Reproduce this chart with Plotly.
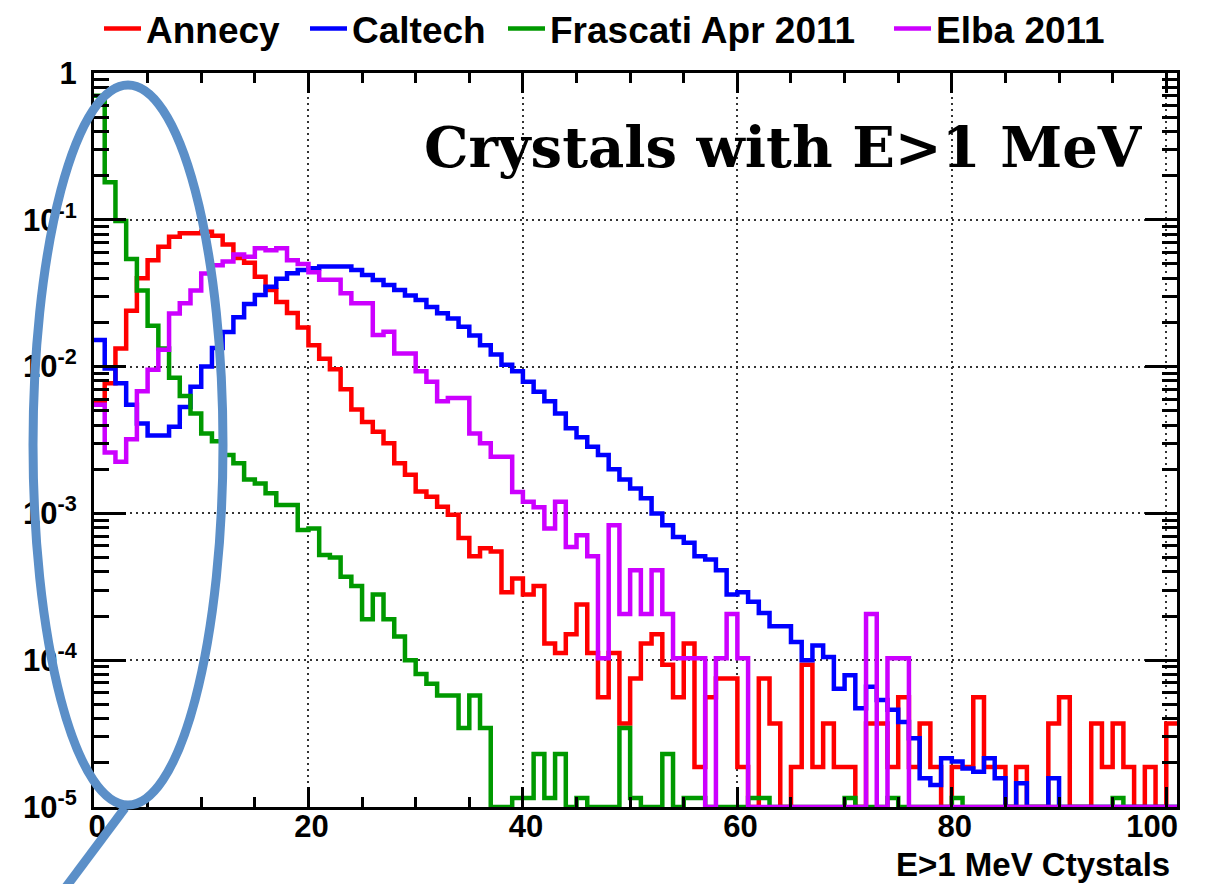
import plotly.graph_objects as go

# ---------------- data (bin contents, bins of width 1 starting at 0) ----------------
annecy = [0.0058, 0.0077, 0.0133, 0.024, 0.040, 0.053, 0.0656, 0.0767, 0.081, 0.081,
          0.083, 0.078, 0.068, 0.055, 0.051, 0.041, 0.0333, 0.0275, 0.0232, 0.0185,
          0.014, 0.0113, 0.0096, 0.0070, 0.0051, 0.0042, 0.0036, 0.0030, 0.0022, 0.00183,
          0.00141, 0.0013, 0.00111, 0.00098, 0.00068, 0.00051, 0.00058, 0.00055, 0.00029, 0.00036,
          0.00028, 0.00032, 0.00013, 0.000112, 0.00015, 0.00024, 0.000112, 5.6e-5, 0.000112, 3.7e-5,
          7.5e-5, 0.00013, 0.00015, 9.3e-5, 5.6e-5, 0.00013, 1.87e-5, 5.6e-5, 7.5e-5, 7.5e-5,
          1.87e-5, 0, 7.5e-5, 3.7e-5, 0, 1.87e-5, 9.3e-5, 1.87e-5, 3.7e-5, 1.87e-5,
          1.87e-5, 0, 3.7e-5, 3.7e-5, 1.87e-5, 5.6e-5, 1.87e-5, 3.7e-5, 1.87e-5, 0,
          1.87e-5, 1.87e-5, 5.6e-5, 1.87e-5, 1.87e-5, 0, 1.87e-5, 0, 0, 3.7e-5,
          5.6e-5, 0, 0, 3.7e-5, 1.87e-5, 3.7e-5, 1.87e-5, 0, 1.87e-5, 0,
          3.7e-5]

caltech = [0.0152, 0.0097, 0.0077, 0.0055, 0.0041, 0.0034, 0.0034, 0.0039, 0.0053, 0.0073,
           0.0100, 0.0134, 0.0172, 0.0217, 0.0267, 0.0307, 0.035, 0.0396, 0.0432, 0.0455,
           0.0467, 0.048, 0.048, 0.048, 0.0455, 0.0421, 0.0389, 0.0359, 0.0333, 0.0305,
           0.0284, 0.0255, 0.0231, 0.0213, 0.0187, 0.0163, 0.014, 0.0121, 0.0103, 0.0093,
           0.0079, 0.00675, 0.0058, 0.0048, 0.0038, 0.0033, 0.00285, 0.0025, 0.002, 0.0017,
           0.00148, 0.00127, 0.001, 0.00083, 0.00069, 0.00063, 0.00051, 0.000485, 0.00041, 0.00028,
           0.00029, 0.00025, 0.00021, 0.00017, 0.00017, 0.000133, 0.0001, 0.000126, 0.000105, 6.4e-5,
           7.9e-5, 4.7e-5, 6.6e-5, 5.35e-5, 4.6e-5, 3.8e-5, 2.94e-5, 1.57e-5, 1.41e-5, 2.15e-5,
           2.04e-5, 1.83e-5, 1.74e-5, 2.15e-5, 1.57e-5, 0, 1.45e-5, 0, 0, 1.57e-5,
           0, 0, 0, 0, 0, 0, 0, 0, 0, 0,
           0]

frascati = [0.7, 0.18, 0.098, 0.054, 0.033, 0.019, 0.0133, 0.0084, 0.0063, 0.0048,
            0.0035, 0.0031, 0.0025, 0.0022, 0.0017, 0.0016, 0.00137, 0.00114, 0.00114, 0.00077,
            0.00079, 0.00052, 0.0005, 0.00037, 0.00032, 0.00019, 0.00028, 0.00019, 0.000145, 0.0001,
            8.05e-5, 6.9e-5, 5.75e-5, 5.75e-5, 3.45e-5, 5.75e-5, 3.45e-5, 0, 0, 1.15e-5,
            1.15e-5, 2.3e-5, 1.15e-5, 2.3e-5, 0, 1.15e-5, 0, 0, 0, 3.45e-5,
            1.15e-5, 0, 0, 2.3e-5, 0, 1.15e-5, 1.15e-5, 0, 0, 0,
            0, 1.15e-5, 1.15e-5, 0, 0, 0, 0, 0, 0, 0,
            1.15e-5, 0, 0, 0, 1.15e-5, 0, 0, 0, 0, 0,
            1.15e-5, 0, 0, 0, 0, 0, 0, 0, 0, 0,
            0, 0, 0, 0, 0, 1.15e-5, 0, 0, 0, 0,
            0]

elba = [0.0055, 0.0026, 0.00225, 0.0032, 0.0068, 0.0095, 0.013, 0.023, 0.027, 0.033,
        0.043, 0.049, 0.052, 0.058, 0.056, 0.064, 0.062, 0.064, 0.053, 0.050,
        0.044, 0.039, 0.039, 0.0316, 0.027, 0.027, 0.0164, 0.0173, 0.0123, 0.0123,
        0.0093, 0.0079, 0.0058, 0.0061, 0.0061, 0.0035, 0.0030, 0.00243, 0.00243, 0.0014,
        0.0012, 0.0011, 0.00079, 0.0012, 0.00059, 0.00071, 0.00051, 0.000103, 0.00083, 0.000206,
        0.00041, 0.000206, 0.00041, 0.000206, 0.000103, 0.000103, 0.000103, 0, 0.000103, 0.000206,
        0.000103, 0, 0, 0, 0, 0, 0, 0, 0, 0,
        0, 0, 0.000206, 0, 0.000103, 0.000103, 0, 0, 0, 0,
        0, 0, 0, 0, 0, 0, 0, 0, 0, 0,
        0, 0, 0, 0, 0, 0, 0, 0, 0, 0,
        0]

series_names = ["Annecy", "Caltech", "Frascati Apr 2011", "Elba 2011"]
series_values = [annecy, caltech, frascati, elba]
series_colors = ["#FF0000", "#0000FF", "#009900", "#CC00FF"]
legend_ids = ["legend", "legend2", "legend3", "legend4"]
legend_x_px = [99, 305, 503, 889]   # left edge of each legend entry

x_tick_vals = [0, 20, 40, 60, 80, 100]
x_tick_text = ["0", "20", "40", "60", "80", "100\u00a0\u00a0\u00a0\u00a0"]
y_tick_vals = [1e-5, 1e-4, 1e-3, 1e-2, 1e-1, 1]
y_tick_text = ["10<sup>-5</sup>", "10<sup>-4</sup>", "10<sup>-3</sup>",
               "10<sup>-2</sup>", "10<sup>-1</sup>", "1"]

X_MAX = 101
Y_FLOOR = 1e-5
W, H = 1220, 884

fig = go.Figure()
for name, vals, col, lid in zip(series_names, series_values, series_colors, legend_ids):
    xs = list(range(len(vals) + 1))
    ys = [max(v, Y_FLOOR) for v in vals] + [max(vals[-1], Y_FLOOR)]
    fig.add_trace(go.Scatter(x=xs, y=ys, mode="lines", name=name, legend=lid,
                             line=dict(color=col, width=4.5, shape="hv")))

tick_font = dict(family="Liberation Sans, Arial, sans-serif", size=31, color="black", weight="bold")
legend_font = dict(family="Liberation Sans, Arial, sans-serif", size=37, color="black", weight="bold")
grid_kw = dict(showgrid=True, gridcolor="#333333", gridwidth=1.6, griddash="2px,4px")

minor_x = [v for v in range(5, 101, 5) if v % 20 != 0]
minor_y = [k * 10.0 ** e for e in range(-5, 0) for k in range(2, 10)]

layout_legends = {}
for lid, lx in zip(legend_ids, legend_x_px):
    layout_legends[lid] = dict(orientation="h", xref="container", yref="container",
                               x=lx / W, y=1 - 29 / H, xanchor="left", yanchor="middle",
                               font=legend_font, bgcolor="rgba(0,0,0,0)", itemwidth=37)

fig.update_layout(
    width=W, height=H,
    margin=dict(l=94, r=43, t=73, b=77, autoexpand=False),
    paper_bgcolor="white", plot_bgcolor="white",
    showlegend=True,
    xaxis=dict(range=[0, X_MAX], showline=True, linewidth=3, linecolor="black",
               mirror="allticks", ticks="inside", ticklen=20, tickwidth=2.5, tickcolor="black",
               tickvals=x_tick_vals, ticktext=x_tick_text, tickfont=tick_font,
               ticklabelstandoff=-10, ticklabelshift=3, zeroline=False,
               minor=dict(tickvals=minor_x, ticks="inside", ticklen=10, tickwidth=2.5,
                          tickcolor="black", showgrid=False),
               **grid_kw),
    yaxis=dict(type="log", range=[-5, 0], showline=True, linewidth=3, linecolor="black",
               mirror="allticks", ticks="inside", ticklen=32, tickwidth=2.5, tickcolor="black",
               tickvals=y_tick_vals, ticktext=y_tick_text, tickfont=tick_font,
               ticklabelstandoff=8, zeroline=False,
               minor=dict(tickvals=minor_y, ticks="inside", ticklen=15, tickwidth=2.5,
                          tickcolor="black", showgrid=False),
               **grid_kw),
    **layout_legends,
)

# headline text inside the frame
fig.add_annotation(text="Crystals with E>1 MeV", xref="paper", yref="paper",
                   x=0.9705, y=0.899, xanchor="right", yanchor="middle", showarrow=False,
                   font=dict(family="DejaVu Serif, Liberation Serif, serif", size=56,
                             color="black", weight="bold"))
# x-axis title, right aligned
fig.add_annotation(text="E>1 MeV Ctystals", xref="paper", yref="paper",
                   x=0.9954, y=-0.0785, xanchor="right", yanchor="middle", showarrow=False,
                   font=dict(family="Liberation Sans, Arial, sans-serif", size=33,
                             color="black", weight="bold"))

# highlight ellipse with pointer line
ell_col = "#5B8FC8"
fig.add_shape(type="circle", xref="paper", yref="paper",
              x0=-0.0563, x1=0.1191, y0=0.0027, y1=0.9837,
              line=dict(color=ell_col, width=9), layer="above")
fig.add_shape(type="line", xref="paper", yref="paper",
              x0=0.0286, y0=-0.0014, x1=-0.0314, y1=-0.1199,
              line=dict(color=ell_col, width=9), layer="above")

fig.write_html("out.html")
